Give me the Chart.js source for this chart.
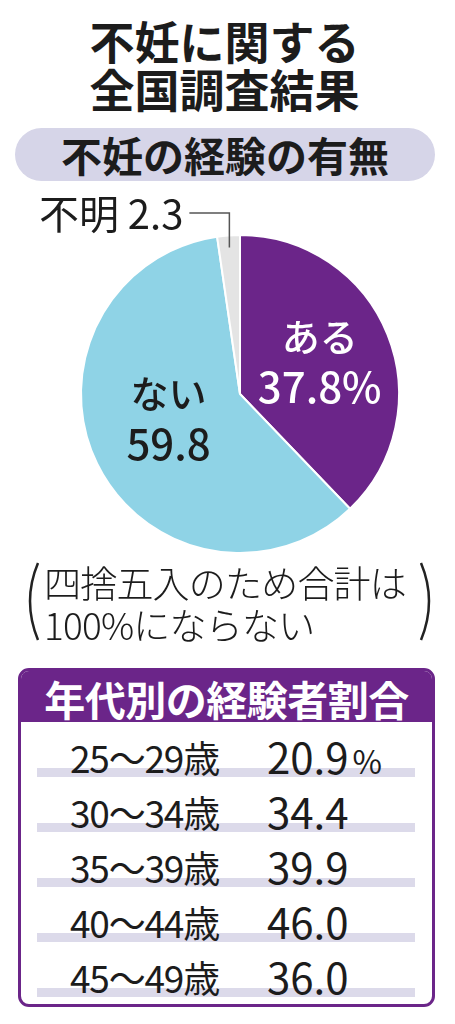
<!DOCTYPE html>
<html lang="ja">
<head>
<meta charset="utf-8">
<script src="https://cdn.jsdelivr.net/npm/chart.js@4.4.0/dist/chart.umd.min.js"></script>
<style>
    html, body {
        margin: 0;
        padding: 0;
        background: #ffffff;
    }
    body {
        position: relative;
        width: 455px;
        height: 1024px;
        overflow: hidden;
        font-family: "Noto Sans CJK JP", "Noto Sans", sans-serif;
        color: #1c1c1c;
    }
    .title {
        position: absolute;
        left: 0;
        top: 17px;
        width: 449px;
        text-align: center;
        font-size: 45px;
        line-height: 48px;
        font-weight: 700;
    }
    .pill {
        position: absolute;
        left: 15px;
        top: 128px;
        width: 420px;
        height: 53px;
        border-radius: 27px;
        background: #d6d5e8;
        text-align: center;
        font-size: 41px;
        line-height: 53px;
        font-weight: 700;
    }
    .pie-wrap {
        position: absolute;
        left: 0;
        top: 190px;
        width: 455px;
        height: 370px;
    }
    .note {
        position: absolute;
        left: 44px;
        top: 561px;
        font-size: 37px;
        line-height: 42px;
        font-weight: 300;
        letter-spacing: -0.8px;
        white-space: nowrap;
    }
    .parens {
        position: absolute;
        left: 0;
        top: 555px;
    }
    .table-box {
        position: absolute;
        left: 18px;
        top: 668px;
        width: 411px;
        height: 333px;
        border: 3px solid #6b2589;
        border-radius: 11px;
        overflow: hidden;
        background: #ffffff;
    }
    .table-head {
        height: 51px;
        background: #6b2589;
        color: #ffffff;
        font-size: 41px;
        line-height: 54px;
        font-weight: 700;
        text-align: center;
        letter-spacing: -0.5px;
    }
    .row-bar {
        position: absolute;
        left: 16px;
        width: 378px;
        height: 9px;
        background: #dcdaea;
    }
    .row-label, .row-value {
        position: absolute;
        white-space: nowrap;
        line-height: 40px;
    }
    .row-label {
        left: 49px;
        font-size: 37px;
        letter-spacing: -1.2px;
    }
    .row-value {
        left: 246px;
        font-size: 42px;
    }
    .row-value small {
        font-size: 32px;
        margin-left: 4px;
    }
</style>
</head>
<body>
    <div class="title">不妊に関する<br>全国調査結果</div>
    <div class="pill">不妊の経験の有無</div>

    <div class="pie-wrap"><canvas id="pieChart"></canvas></div>

    <svg class="parens" width="455" height="95">
        <path d="M38 8 Q22 46 38 85" fill="none" stroke="#222" stroke-width="2.5"/>
        <path d="M421 8 Q437 46 421 85" fill="none" stroke="#222" stroke-width="2.5"/>
    </svg>
    <div class="note">四捨五入のため合計は<br>100%にならない</div>

    <div class="table-box" id="ageTable">
        <div class="table-head">年代別の経験者割合</div>
    </div>

<script>
// Pie data
const pieLabels = ['ある', 'ない', '不明'];
const pieValues = [37.8, 59.8, 2.3];

// Age breakdown data
const ageGroups = ['25～29歳', '30～34歳', '35～39歳', '40～44歳', '45～49歳'];
const ageRates = [20.9, 34.4, 39.9, 46.0, 36.0];

// Label drawing for the pie slices
const sliceLabels = {
    id: 'sliceLabels',
    afterDatasetsDraw(chart) {
        const ctx = chart.ctx;
        const arcs = chart.getDatasetMeta(0).data;
        ctx.save();
        ctx.textAlign = 'center';
        ctx.textBaseline = 'middle';

        // inside labels
        const inside = [
            { idx: 0, r: 0.54, dy: 0, color: '#ffffff', suffix: '%' },
            { idx: 1, r: 0.5, dy: -10, color: '#1c1c1c', suffix: '' }
        ];
        inside.forEach(cfg => {
            const arc = arcs[cfg.idx];
            const p = arc.getProps(['x', 'y', 'startAngle', 'endAngle', 'outerRadius'], true);
            const mid = (p.startAngle + p.endAngle) / 2;
            const cx = p.x + Math.cos(mid) * p.outerRadius * cfg.r;
            const cy = p.y + Math.sin(mid) * p.outerRadius * cfg.r + cfg.dy;
            ctx.fillStyle = cfg.color;
            ctx.font = '500 38px "Noto Sans CJK JP"';
            ctx.fillText(pieLabels[cfg.idx], cx, cy - 25);
            ctx.font = '500 42px "Noto Sans CJK JP"';
            ctx.fillText(pieValues[cfg.idx].toFixed(1) + cfg.suffix, cx, cy + 25);
        });

        // outside label with leader line
        const arc = arcs[2];
        const p = arc.getProps(['x', 'y', 'startAngle', 'endAngle', 'outerRadius'], true);
        const mid = (p.startAngle + p.endAngle) / 2;
        const ax = p.x + Math.cos(mid) * (p.outerRadius - 12);
        const ay = p.y + Math.sin(mid) * (p.outerRadius - 12);
        const ly = p.y - p.outerRadius - 22;
        const textRight = ax - 46;

        ctx.strokeStyle = '#555555';
        ctx.lineWidth = 1.5;
        ctx.beginPath();
        ctx.moveTo(textRight + 6, ly);
        ctx.lineTo(ax, ly);
        ctx.lineTo(ax, ay);
        ctx.stroke();

        ctx.fillStyle = '#1c1c1c';
        ctx.textAlign = 'right';
        ctx.font = '400 40px "Noto Sans CJK JP"';
        ctx.fillText(pieLabels[2] + ' ' + pieValues[2].toFixed(1), textRight, ly + 1);
        ctx.restore();
    }
};

function initializePie() {
    const ctx = document.getElementById('pieChart').getContext('2d');
    new Chart(ctx, {
        type: 'pie',
        data: {
            labels: pieLabels,
            datasets: [{
                data: pieValues,
                backgroundColor: ['#6b2589', '#8fd3e6', '#e4e4e4'],
                borderColor: '#ffffff',
                borderWidth: 2
            }]
        },
        options: {
            responsive: true,
            maintainAspectRatio: false,
            animation: false,
            layout: {
                padding: { left: 80, right: 55, top: 44, bottom: 6 }
            },
            plugins: {
                legend: { display: false },
                tooltip: { enabled: false }
            }
        },
        plugins: [sliceLabels]
    });
}

function renderAgeTable() {
    const box = document.getElementById('ageTable');
    const rowPitch = 55;
    box.insertAdjacentHTML('beforeend', ageGroups.map((group, i) => {
        const top = 51 + i * rowPitch;
        const value = ageRates[i].toFixed(1) + (i === 0 ? '<small>%</small>' : '');
        return `
            <div class="row-bar" style="top:${top + 46}px"></div>
            <div class="row-label" style="top:${top + 15}px">${group}</div>
            <div class="row-value" style="top:${top + 14}px">${value}</div>
        `;
    }).join(''));
}

document.addEventListener('DOMContentLoaded', () => {
    initializePie();
    renderAgeTable();
});
</script>
</body>
</html>
